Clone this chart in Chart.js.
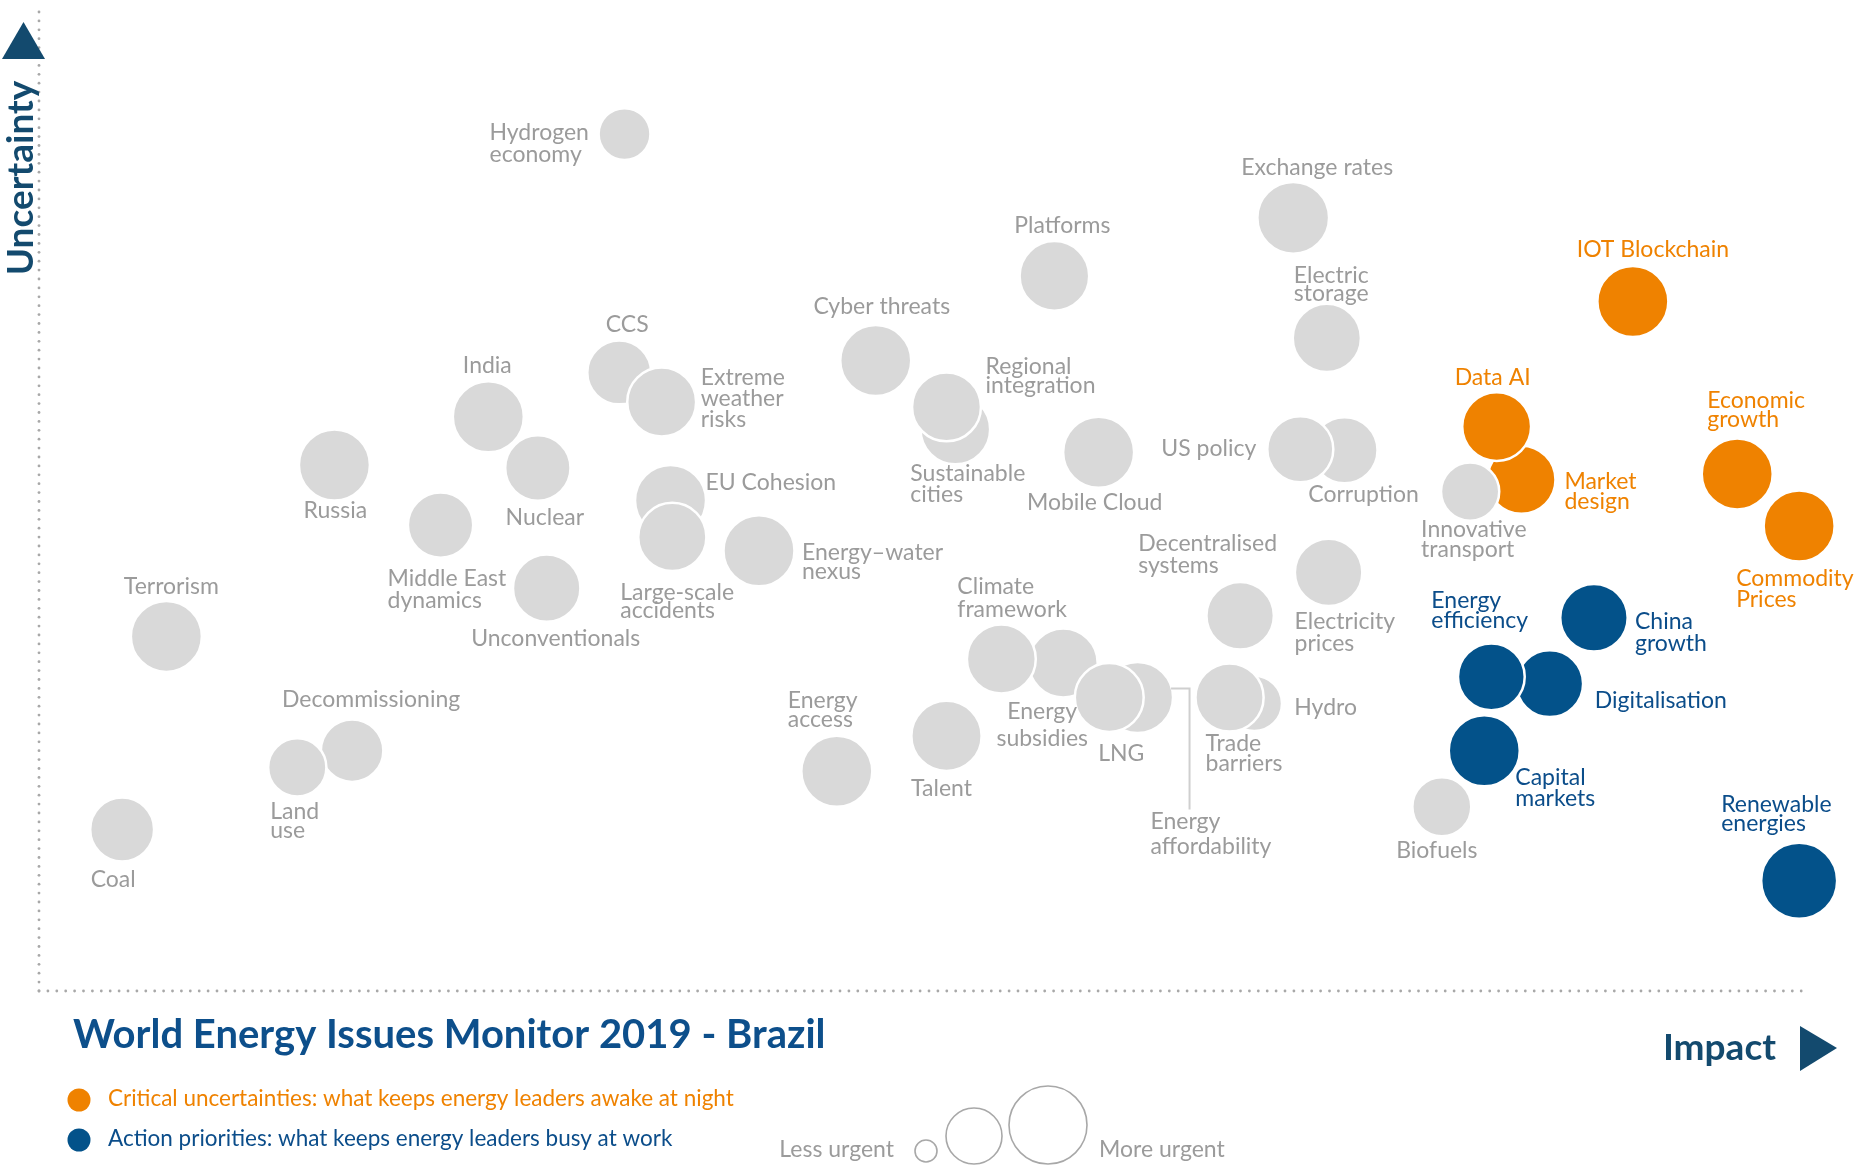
<!DOCTYPE html>
<html>
<head>
<meta charset="utf-8">
<script src="https://cdn.jsdelivr.net/npm/chart.js@4.4.1/dist/chart.umd.min.js"></script>
<style>
html,body{margin:0;padding:0;background:#fff;}
#wrap{position:relative;width:1855px;height:1165px;}
</style>
</head>
<body>
<div id="wrap"><canvas id="chart"></canvas></div>
<script>
// issues, drawn in this order (later ones sit in front)
var issues = ['Hydrogen economy','Exchange rates','Platforms','Electric storage','Cyber threats','CCS',
	'Extreme weather risks','India','Sustainable cities','Regional integration','Russia','Nuclear',
	'Middle East dynamics','Unconventionals','EU Cohesion','Large-scale accidents','Energy–water nexus',
	'Mobile Cloud','Corruption','US policy','Decentralised systems','Electricity prices','Terrorism',
	'Energy subsidies','Climate framework','Energy affordability','LNG','Hydro','Trade barriers',
	'Energy access','Talent','Decommissioning','Land use','Coal','Biofuels',
	'IOT Blockchain','Market design','Data AI','Economic growth','Commodity Prices','Innovative transport',
	'China growth','Digitalisation','Energy efficiency','Capital markets','Renewable energies'];
var impact = [33.1,70.9,57.4,72.8,47.3,32.8,
	35.2,25.4,51.8,51.3,16.7,28.2,
	22.7,28.7,35.7,35.8,40.7,
	59.9,73.8,71.3,67.9,72.9,7.2,
	57.9,54.4,62.1,60.5,68.7,67.3,
	45.1,51.3,17.7,14.6,4.7,79.3,
	90.1,83.8,82.4,96.0,99.5,80.9,
	87.9,85.4,82.1,81.7,99.5];
var uncertainty = [87.0,78.5,72.6,66.3,64.0,62.8,
	59.8,58.3,57.0,59.3,53.4,53.1,
	47.3,40.9,49.8,46.1,44.7,
	54.7,54.9,55.0,38.1,42.5,36.0,
	33.3,33.7,29.8,29.8,29.2,29.8,
	22.3,25.9,24.4,22.7,16.4,18.7,
	70.0,51.9,57.3,52.5,47.2,50.7,
	37.9,31.2,31.9,24.4,11.2];
var urgency = [7.3,10.1,9.8,9.6,10.0,9.0,
	9.7,10.0,9.8,9.7,10.0,9.2,
	9.2,9.5,10.0,9.6,10.0,
	10.0,9.3,9.3,9.5,9.5,10.0,
	9.7,9.7,10.0,9.7,7.8,9.6,
	10.0,9.9,8.8,8.2,9.0,8.3,
	10.0,9.6,9.7,10.0,10.0,8.2,
	9.5,9.4,9.4,10.0,10.7];
// 0 = other issue, 1 = critical uncertainty, 2 = action priority
var group = [0,0,0,0,0,0, 0,0,0,0,0,0, 0,0,0,0,0, 0,0,0,0,0,0, 0,0,0,0,0,0, 0,0,0,0,0,0,
	1,1,1,1,1,0, 2,2,2,2,2];

var fillColors = ['#d9d9d9','#ef8200','#03528a'];
var textColors = ['#9b9b9b','#ef8200','#0b4d8a'];
var RSCALE = 3.55; // px per urgency unit

// label placement relative to bubble centre: dx, dy, align, line height, lines
var labelLayout = {
	'Hydrogen economy':[-135,-1,'left',22,['Hydrogen','economy']],
	'Exchange rates':[24,-50,'center'],
	'Platforms':[8,-50,'center'],
	'Electric storage':[-33,-62,'left',18,['Electric','storage']],
	'Cyber threats':[6,-54,'center'],
	'CCS':[8,-48,'center'],
	'Extreme weather risks':[39,-24,'left',21,['Extreme','weather','risks']],
	'India':[-1,-51,'center'],
	'Sustainable cities':[-45,44,'left',21,['Sustainable','cities']],
	'Regional integration':[39,-40,'left',19,['Regional','integration']],
	'Russia':[1,46,'center'],
	'Nuclear':[7,50,'center'],
	'Middle East dynamics':[-53,53,'left',22,['Middle East','dynamics']],
	'Unconventionals':[9,50,'center'],
	'EU Cohesion':[35,-18,'left'],
	'Large-scale accidents':[-52,56,'left',18,['Large-scale','accidents']],
	'Energy–water nexus':[43,2,'left',19,['Energy–water','nexus']],
	'Mobile Cloud':[-4,50,'center'],
	'Corruption':[19,44,'center'],
	'US policy':[-44,-1,'right'],
	'Decentralised systems':[-102,-72,'left',22,['Decentralised','systems']],
	'Electricity prices':[-34,49,'left',22,['Electricity','prices']],
	'Terrorism':[5,-50,'center'],
	'Energy subsidies':[-21,49,'center',27,['Energy','subsidies']],
	'Climate framework':[-44,-72,'left',23,['Climate','framework']],
	'Energy affordability':[13,124,'left',25,['Energy','affordability']],
	'LNG':[12,56,'center'],
	'Hydro':[40,4,'left'],
	'Trade barriers':[-24,46,'left',20,['Trade','barriers']],
	'Energy access':[-49,-71,'left',19,['Energy','access']],
	'Talent':[-5,53,'center'],
	'Decommissioning':[19,-51,'center'],
	'Land use':[-27,44,'left',19,['Land','use']],
	'Coal':[-9,50,'center'],
	'Biofuels':[-5,44,'center'],
	'IOT Blockchain':[20,-52,'center'],
	'Market design':[43,2,'left',20,['Market','design']],
	'Data AI':[-4,-49,'center'],
	'Economic growth':[-30,-73,'left',19,['Economic','growth']],
	'Commodity Prices':[-63,52,'left',21,['Commodity','Prices']],
	'Innovative transport':[-49,38,'left',20,['Innovative','transport']],
	'China growth':[41,4,'left',22,['China','growth']],
	'Digitalisation':[45,17,'left'],
	'Energy efficiency':[-60,-76,'left',20,['Energy','efficiency']],
	'Capital markets':[31,27,'left',21,['Capital','markets']],
	'Renewable energies':[-78,-76,'left',19,['Renewable','energies']]
};

var points = issues.map(function(n, i){
	return {x: impact[i], y: uncertainty[i], r: urgency[i] * RSCALE};
});

var FONT = 'Lato, "Open Sans", sans-serif';

function dotted(ctx, x1, y1, x2, y2, step){
	var len = Math.hypot(x2 - x1, y2 - y1), n = Math.floor(len / step);
	for (var k = 0; k <= n; k++) {
		var t = k * step / len;
		ctx.beginPath();
		ctx.arc(x1 + (x2 - x1) * t, y1 + (y2 - y1) * t, 1.4, 0, Math.PI * 2);
		ctx.fill();
	}
}

var decor = {
	id: 'decor',
	beforeDatasetsDraw: function(chart){
		var ctx = chart.ctx, a = chart.chartArea;
		ctx.save();
		ctx.fillStyle = '#a8a8a8';
		dotted(ctx, a.left, a.bottom, a.left, a.top, 8.9);
		dotted(ctx, a.left, a.bottom, a.right, a.bottom, 8.9);
		ctx.restore();
	},
	afterDatasetsDraw: function(chart){
		var ctx = chart.ctx, a = chart.chartArea;
		var meta = chart.getDatasetMeta(0);
		ctx.save();
		ctx.textBaseline = 'middle';
		ctx.font = '23px ' + FONT;
		meta.data.forEach(function(pt, i){
			var lay = labelLayout[issues[i]];
			var lines = lay[4] || [issues[i]];
			ctx.fillStyle = textColors[group[i]];
			ctx.textAlign = lay[2];
			lines.forEach(function(t, k){
				ctx.fillText(t, pt.x + lay[0], pt.y + lay[1] + k * (lay[3] || 21));
			});
			if (issues[i] === 'Energy affordability') {
				var r = points[i].r;
				ctx.strokeStyle = '#cfcfcf';
				ctx.lineWidth = 2;
				ctx.beginPath();
				ctx.moveTo(pt.x + r - 2, pt.y - 9);
				ctx.lineTo(pt.x + 52, pt.y - 9);
				ctx.lineTo(pt.x + 52, pt.y + 112);
				ctx.stroke();
			}
		});

		// axis arrows and titles
		ctx.fillStyle = '#134a6e';
		ctx.beginPath();
		ctx.moveTo(2, 59); ctx.lineTo(45, 59); ctx.lineTo(23.5, 22); ctx.closePath(); ctx.fill();
		ctx.beginPath();
		ctx.moveTo(1800, 1026); ctx.lineTo(1837, 1048); ctx.lineTo(1800, 1071); ctx.closePath(); ctx.fill();

		ctx.save();
		ctx.translate(21, 178);
		ctx.rotate(-Math.PI / 2);
		ctx.font = 'bold 37px ' + FONT;
		ctx.textAlign = 'center';
		ctx.fillText('Uncertainty', 0, 0);
		ctx.restore();

		ctx.font = 'bold 37px ' + FONT;
		ctx.textAlign = 'right';
		ctx.fillText('Impact', 1776, 1048);

		// title
		ctx.fillStyle = '#0d4f8b';
		ctx.textAlign = 'left';
		ctx.font = 'bold 40px ' + FONT;
		ctx.fillText('World Energy Issues Monitor 2019 - Brazil', 73, 1035);

		// colour legend
		ctx.font = '22.5px ' + FONT;
		ctx.fillStyle = fillColors[1];
		ctx.beginPath(); ctx.arc(79, 1100, 11.5, 0, Math.PI * 2); ctx.fill();
		ctx.fillText('Critical uncertainties: what keeps energy leaders awake at night', 108, 1099);
		ctx.fillStyle = fillColors[2];
		ctx.beginPath(); ctx.arc(79, 1140, 11.5, 0, Math.PI * 2); ctx.fill();
		ctx.fillStyle = '#0b4d8a';
		ctx.fillText('Action priorities: what keeps energy leaders busy at work', 108, 1139);

		// size legend
		ctx.fillStyle = '#9b9b9b';
		ctx.font = '23px ' + FONT;
		ctx.textAlign = 'right';
		ctx.fillText('Less urgent', 894, 1150);
		ctx.textAlign = 'left';
		ctx.fillText('More urgent', 1099, 1150);
		ctx.strokeStyle = '#a8a8a8';
		ctx.lineWidth = 1.6;
		[[926, 1151, 11], [974, 1136, 28], [1048, 1125, 39]].forEach(function(c){
			ctx.beginPath(); ctx.arc(c[0], c[1], c[2], 0, Math.PI * 2); ctx.stroke();
		});
		ctx.restore();
	}
};

new Chart(document.getElementById('chart'), {
	type: 'bubble',
	data: {
		datasets: [{
			data: points,
			clip: false,
			backgroundColor: group.map(function(g){ return fillColors[g]; }),
			borderColor: '#ffffff',
			borderWidth: 2.5,
			hoverBorderWidth: 2.5
		}]
	},
	options: {
		responsive: true,
		maintainAspectRatio: false,
		animation: false,
		events: [],
		layout: {autoPadding: false, padding: {left: 39, right: 47, top: 6, bottom: 174}},
		plugins: {legend: {display: false}, tooltip: {enabled: false}},
		scales: {
			x: {type: 'linear', min: 0, max: 100, display: false},
			y: {type: 'linear', min: 0, max: 100, display: false}
		}
	},
	plugins: [decor]
});
</script>
</body>
</html>
